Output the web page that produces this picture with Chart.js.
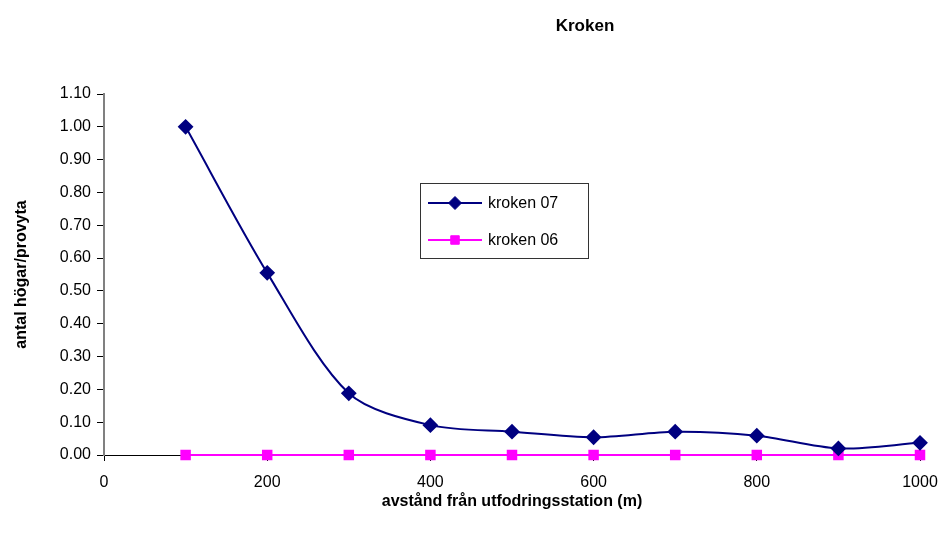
<!DOCTYPE html>
<html>
<head>
<meta charset="utf-8">
<script src="https://cdn.jsdelivr.net/npm/chart.js@4/dist/chart.umd.min.js"></script>
<style>
  html, body { margin: 0; padding: 0; background: #fff; }
  #wrap { width: 947px; height: 539px; position: relative; }
</style>
</head>
<body>
<div id="wrap"><canvas id="chart" width="947" height="539"></canvas></div>
<script>
// data
const distances = [100, 200, 300, 400, 500, 600, 700, 800, 900, 1000];
const kroken07 = [1.00, 0.555, 0.188, 0.091, 0.071, 0.054, 0.071, 0.059, 0.02, 0.037];
const kroken06 = [0, 0, 0, 0, 0, 0, 0, 0, 0, 0];
const xTicks = [0, 200, 400, 600, 800, 1000];
const yMax = 1.1;

const FONT = 'Liberation Sans, Arial, sans-serif';

// title is not centred on the canvas in the original, so draw it by hand
const titlePlugin = {
    id: 'ownTitle',
    afterDraw(chart) {
        const ctx = chart.ctx;
        ctx.save();
        ctx.font = 'bold 17px ' + FONT;
        ctx.fillStyle = '#000';
        ctx.textAlign = 'center';
        ctx.textBaseline = 'middle';
        ctx.fillText('Kroken', 585, 26);
        ctx.restore();
    }
};

// legend box sitting inside the plot
const legendPlugin = {
    id: 'boxLegend',
    afterDraw(chart) {
        const ctx = chart.ctx;
        const x0 = 420, y0 = 183, w = 168, h = 75;
        ctx.save();
        ctx.fillStyle = '#fff';
        ctx.fillRect(x0, y0, w, h);
        ctx.strokeStyle = '#333';
        ctx.lineWidth = 1;
        ctx.strokeRect(x0 + 0.5, y0 + 0.5, w, h);
        chart.data.datasets.forEach((ds, i) => {
            const y = y0 + 20 + i * 37;
            ctx.strokeStyle = ds.borderColor;
            ctx.lineWidth = 2;
            ctx.beginPath();
            ctx.moveTo(x0 + 8, y);
            ctx.lineTo(x0 + 62, y);
            ctx.stroke();
            ctx.fillStyle = ds.pointBackgroundColor;
            ctx.strokeStyle = ds.pointBorderColor;
            ctx.lineWidth = 1;
            Chart.helpers.drawPoint(ctx, {
                pointStyle: ds.pointStyle,
                radius: ds.pointRadius,
                rotation: 0,
                borderWidth: 1
            }, x0 + 35, y);
            ctx.fillStyle = '#000';
            ctx.font = '16px ' + FONT;
            ctx.textAlign = 'left';
            ctx.textBaseline = 'middle';
            ctx.fillText(ds.label, x0 + 68, y + 1);
        });
        ctx.restore();
    }
};

const ctx = document.getElementById('chart').getContext('2d');
new Chart(ctx, {
    type: 'line',
    data: {
        datasets: [
            {
                label: 'kroken 07',
                data: distances.map((d, i) => ({ x: d, y: kroken07[i] })),
                borderColor: '#000080',
                backgroundColor: '#000080',
                pointBackgroundColor: '#000080',
                pointBorderColor: '#000080',
                pointStyle: 'rectRot',
                pointRadius: 6.5,
                borderWidth: 2,
                tension: 0.3
            },
            {
                label: 'kroken 06',
                data: distances.map((d, i) => ({ x: d, y: kroken06[i] })),
                borderColor: '#ff00ff',
                backgroundColor: '#ff00ff',
                pointBackgroundColor: '#ff00ff',
                pointBorderColor: '#ff00ff',
                pointStyle: 'rect',
                pointRadius: 6,
                borderWidth: 2,
                tension: 0
            }
        ]
    },
    options: {
        responsive: false,
        animation: false,
        clip: false,
        layout: { padding: { top: 94, right: 27, bottom: 0, left: 0 } },
        plugins: {
            legend: { display: false },
            title: { display: false },
            tooltip: { enabled: false }
        },
        scales: {
            x: {
                type: 'linear',
                min: 0,
                max: 1000,
                afterBuildTicks: s => { s.ticks = xTicks.map(v => ({ value: v })); },
                afterFit: s => {
                    s.height = 84;
                    s.paddingLeft = 0;
                    s.paddingRight = 0;
                },
                grid: { drawOnChartArea: false, drawTicks: true, tickLength: 6, color: '#000' },
                border: { color: '#000', width: 1 },
                ticks: {
                    color: '#000',
                    font: { family: FONT, size: 16 },
                    padding: 12,
                    maxRotation: 0,
                    callback: v => String(v)
                },
                title: {
                    display: true,
                    text: 'avstånd från utfodringsstation (m)',
                    color: '#000',
                    font: { family: FONT, size: 16, weight: 'bold' },
                    padding: { top: 0, bottom: 28 }
                }
            },
            y: {
                min: 0,
                max: yMax,
                afterBuildTicks: s => {
                    const t = [];
                    for (let i = 0; i <= 11; i++) t.push({ value: i / 10 });
                    s.ticks = t;
                },
                afterFit: s => { s.width = 104; },
                grid: { drawOnChartArea: false, drawTicks: true, tickLength: 7, color: '#000' },
                border: { color: '#808080', width: 2 },
                ticks: {
                    color: '#000',
                    font: { family: FONT, size: 16 },
                    padding: 6,
                    callback: v => v.toFixed(2)
                },
                title: {
                    display: true,
                    text: 'antal högar/provyta',
                    color: '#000',
                    font: { family: FONT, size: 16, weight: 'bold' },
                    padding: { top: 12, bottom: 0 }
                }
            }
        }
    },
    plugins: [titlePlugin, legendPlugin]
});
</script>
</body>
</html>
